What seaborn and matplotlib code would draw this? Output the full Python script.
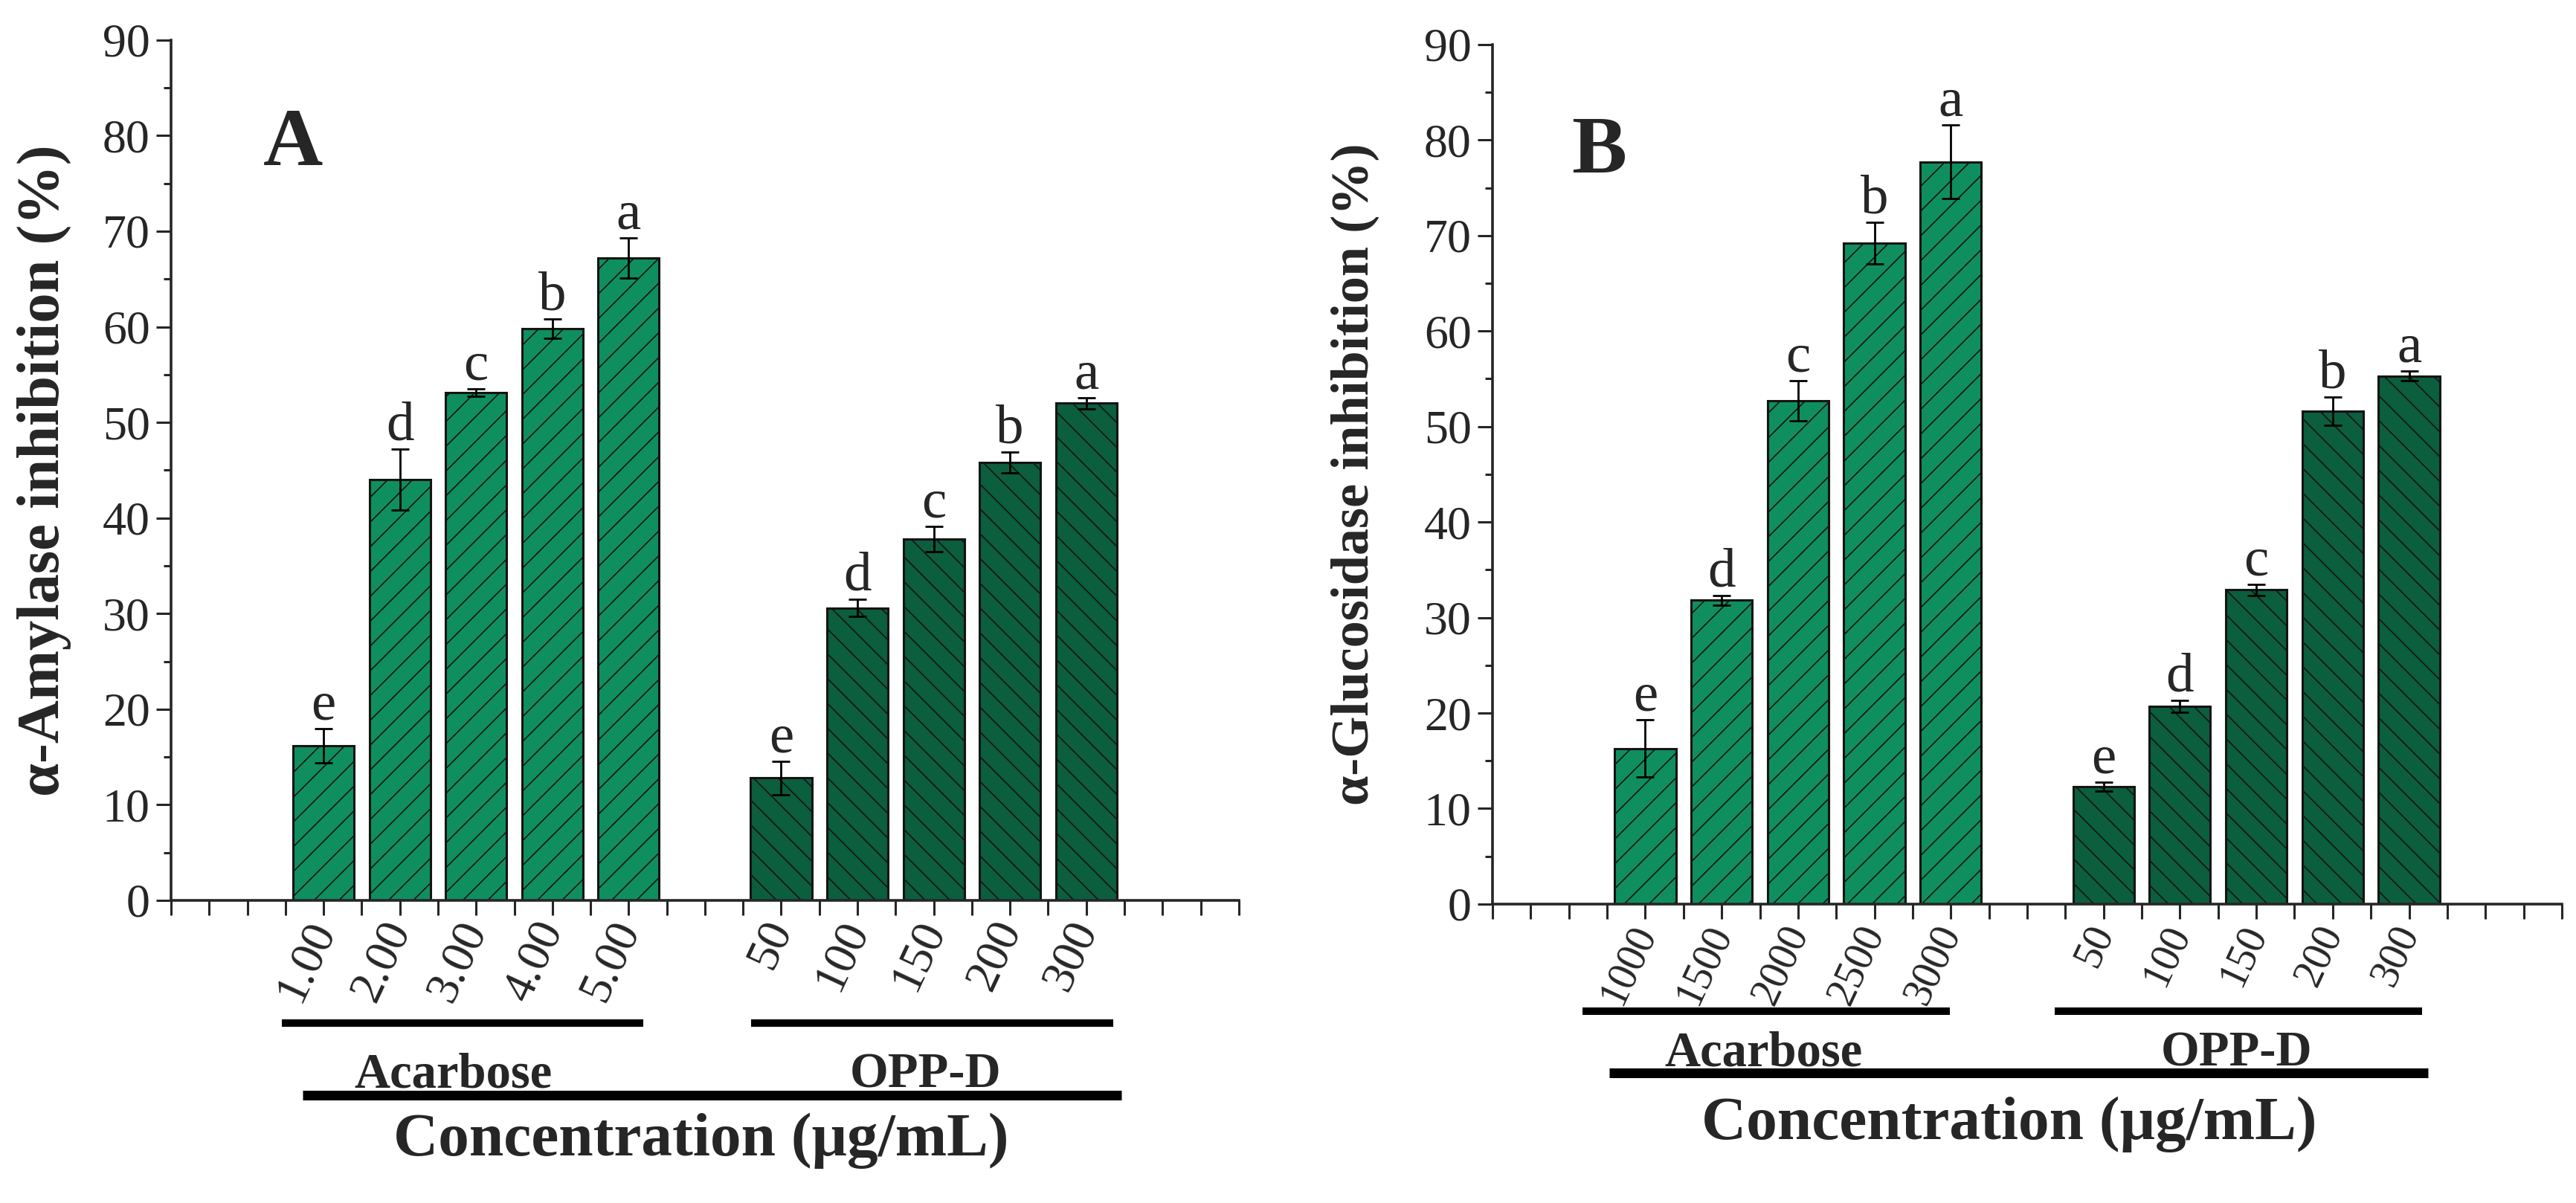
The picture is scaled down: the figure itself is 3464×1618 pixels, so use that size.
import numpy as np
import pandas as pd
import matplotlib
matplotlib.use("Agg")
import matplotlib.pyplot as plt
import matplotlib.transforms as mtransforms
from matplotlib.ticker import MultipleLocator
import seaborn as sns

# ---------------- data ----------------
groups = ["Acarbose", "OPP-D"]
letters = ["e", "d", "c", "b", "a"]

conc_acarbose_A = ["1.00", "2.00", "3.00", "4.00", "5.00"]
conc_opp_A = ["50", "100", "150", "200", "300"]
amylase_acarbose = [16.2, 44.0, 53.1, 59.8, 67.2]
amylase_acarbose_err = [1.8, 3.2, 0.4, 1.0, 2.1]
amylase_opp = [12.8, 30.6, 37.8, 45.8, 52.0]
amylase_opp_err = [1.75, 0.9, 1.35, 1.1, 0.6]

conc_acarbose_B = ["1000", "1500", "2000", "2500", "3000"]
conc_opp_B = ["50", "100", "150", "200", "300"]
glucosidase_acarbose = [16.3, 31.8, 52.7, 69.2, 77.7]
glucosidase_acarbose_err = [3.0, 0.5, 2.1, 2.2, 3.85]
glucosidase_opp = [12.3, 20.7, 32.9, 51.6, 55.3]
glucosidase_opp_err = [0.5, 0.6, 0.6, 1.45, 0.5]

# ---------------- style ----------------
sns.set_style("ticks")
plt.rcParams["font.family"] = ["Liberation Serif", "DejaVu Serif"]
plt.rcParams["hatch.linewidth"] = 0.6
plt.rcParams["axes.linewidth"] = 1.3

col_acarbose = "#0f8f5f"
col_opp = "#0b5e3e"
edge = "#141414"

fig = plt.figure(figsize=(17.32, 8.09), dpi=200)
axA = fig.add_axes([0.0664, 0.2516, 0.4145, 0.7151])
axB = fig.add_axes([0.5794, 0.2485, 0.4151, 0.7145])


def draw_panel(ax, acar_labels, opp_labels, acar_vals, acar_err, opp_vals, opp_err,
               ylabel, ylabel_size, ylabel_x, panel, panel_xy, xtick_size, lines):
    n = len(acar_vals)
    pos_acar = np.arange(n) + 2
    pos_opp = np.arange(n) + 3 + n
    df = pd.DataFrame({
        "pos": np.concatenate([pos_acar, pos_opp]).astype(float),
        "val": list(acar_vals) + list(opp_vals),
        "group": [groups[0]] * n + [groups[1]] * n,
    })
    sns.barplot(data=df, x="pos", y="val", hue="group", native_scale=True, dodge=False,
                palette={groups[0]: col_acarbose, groups[1]: col_opp}, width=0.8,
                edgecolor=edge, linewidth=1.1, errorbar=None, legend=False, ax=ax,
                saturation=1)
    for p in ax.patches:
        cx = p.get_x() + p.get_width() / 2
        p.set_hatch("//" if cx < n + 2.5 else "\\\\")
    ax.errorbar(pos_acar, acar_vals, yerr=acar_err, fmt="none", ecolor="black",
                elinewidth=1.0, capsize=4.3, capthick=1.0, zorder=5)
    ax.errorbar(pos_opp, opp_vals, yerr=opp_err, fmt="none", ecolor="black",
                elinewidth=1.0, capsize=4.3, capthick=1.0, zorder=5)
    for xs, vs, es in [(pos_acar, acar_vals, acar_err), (pos_opp, opp_vals, opp_err)]:
        for x, v, e, l in zip(xs, vs, es, letters):
            ax.annotate(l, (x, v + e), xytext=(0, 4.5), textcoords="offset points",
                        ha="center", va="baseline", fontsize=27)

    ax.set_xlim(0, 14)
    ax.set_ylim(0, 90)
    ax.set_xticks(np.concatenate([pos_acar, pos_opp]))
    ax.set_xticklabels(list(acar_labels) + list(opp_labels), rotation=65, ha="right",
                       va="center", rotation_mode="anchor", fontsize=xtick_size)
    ax.xaxis.set_minor_locator(MultipleLocator(0.5))
    ax.yaxis.set_major_locator(MultipleLocator(10))
    ax.yaxis.set_minor_locator(MultipleLocator(5))
    ax.tick_params(axis="x", which="both", length=7.2, width=1.1, direction="out", pad=4)
    ax.tick_params(axis="y", which="major", length=7.2, width=1.1, direction="out", pad=3,
                   labelsize=23)
    ax.tick_params(axis="y", which="minor", length=3.6, width=1.1, direction="out")
    for s in ["top", "right"]:
        ax.spines[s].set_visible(False)
    ax.set_xlabel("")
    ax.set_ylabel(ylabel, fontsize=ylabel_size, fontweight="bold")
    ax.yaxis.set_label_coords(ylabel_x, 0.5)

    ax.text(panel_xy[0], panel_xy[1], panel, fontsize=40, fontweight="bold",
            ha="left", va="baseline")

    trans = mtransforms.blended_transform_factory(ax.transData, ax.transAxes)
    (g_y, ga_x, go_x, lab_y, acar_cx, opp_cx, long_x, long_y, conc_cx, conc_y) = lines
    ax.plot(ga_x, [g_y, g_y], color="black", lw=3.6, transform=trans, clip_on=False,
            solid_capstyle="butt")
    ax.plot(go_x, [g_y, g_y], color="black", lw=3.6, transform=trans, clip_on=False,
            solid_capstyle="butt")
    ax.text(acar_cx, lab_y, groups[0], transform=trans, ha="center", va="baseline",
            fontsize=24, fontweight="bold")
    ax.text(opp_cx, lab_y, groups[1], transform=trans, ha="center", va="baseline",
            fontsize=24, fontweight="bold")
    ax.plot(long_x, [long_y, long_y], color="black", lw=4.7, transform=trans,
            clip_on=False, solid_capstyle="butt")
    ax.text(conc_cx, conc_y, "Concentration (μg/mL)", transform=trans, ha="center",
            va="baseline", fontsize=30, fontweight="bold")


draw_panel(axA, conc_acarbose_A, conc_opp_A, amylase_acarbose, amylase_acarbose_err,
           amylase_opp, amylase_opp_err, "α-Amylase inhibition (%)", 29, -0.093,
           "A", (1.21, 76.9), 23,
           (-0.1426, [1.45, 6.19], [7.61, 12.35], -0.2178, 3.70, 9.89,
            [1.73, 12.46], -0.2264, 6.95, -0.2965))

draw_panel(axB, conc_acarbose_B, conc_opp_B, glucosidase_acarbose, glucosidase_acarbose_err,
           glucosidase_opp, glucosidase_opp_err, "α-Glucosidase inhibition (%)", 26, -0.106,
           "B", (1.03, 76.6), 20,
           (-0.1246, [1.18, 5.99], [7.36, 12.17], -0.1886, 3.55, 9.74,
            [1.53, 12.25], -0.1964, 6.76, -0.2734))

fig.savefig("out.png", dpi=200, facecolor="white")
